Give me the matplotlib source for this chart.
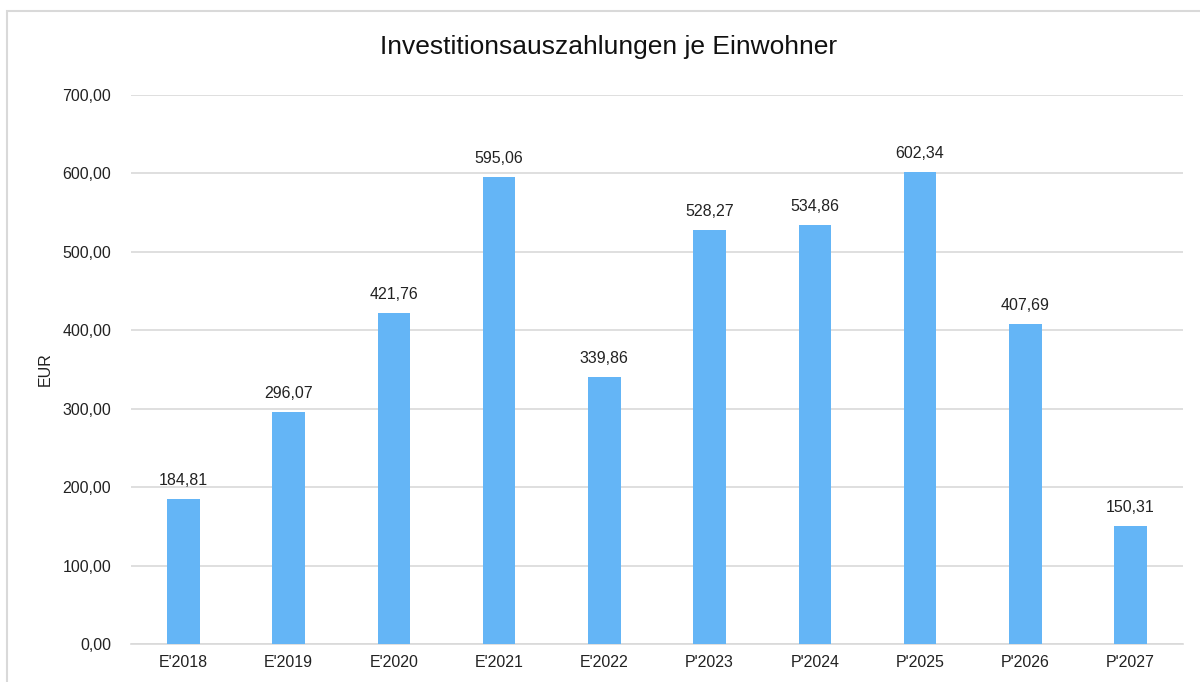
import matplotlib.pyplot as plt
from matplotlib.patches import Rectangle
from matplotlib.ticker import FuncFormatter

plt.rcParams['font.family'] = ['Liberation Sans', 'DejaVu Sans']

# data
categories = ["E'2018", "E'2019", "E'2020", "E'2021", "E'2022",
              "P'2023", "P'2024", "P'2025", "P'2026", "P'2027"]
values = [184.81, 296.07, 421.76, 595.06, 339.86,
          528.27, 534.86, 602.34, 407.69, 150.31]
y_ticks = [0, 100, 200, 300, 400, 500, 600, 700]

BAR_COLOR = '#64B5F6'
GRID_COLOR = '#d9d9d9'
TEXT_COLOR = '#222222'


def de_format(v, pos=None):
    # German decimal comma
    return "{:.2f}".format(v).replace('.', ',')


fig = plt.figure(figsize=(12, 6.82), dpi=100)
ax = fig.add_axes([0.109, 0.0557, 0.877, 0.8050])

# outer chart border (only left and top visible in the crop)
fig.patches.append(Rectangle((7 / 1200, -0.1), 1.2, 1 - 11 / 682 + 0.1,
                             transform=fig.transFigure, fill=False,
                             edgecolor=GRID_COLOR, linewidth=1.5))

x = range(len(categories))
bars = ax.bar(x, values, width=0.31, color=BAR_COLOR, zorder=3)

for rect, v in zip(bars, values):
    ax.text(rect.get_x() + rect.get_width() / 2, v + 14, de_format(v),
            ha='center', va='bottom', fontsize=11.5, color=TEXT_COLOR)

ax.set_xlim(-0.5, len(categories) - 0.5)
ax.set_ylim(0, 700)
ax.set_yticks(y_ticks)
ax.yaxis.set_major_formatter(FuncFormatter(de_format))
ax.set_xticks(list(x))
ax.set_xticklabels(categories)

ax.grid(axis='y', color=GRID_COLOR, linewidth=1.2, zorder=0)
for s in ['top', 'right', 'left']:
    ax.spines[s].set_visible(False)
ax.spines['bottom'].set_color(GRID_COLOR)
ax.spines['bottom'].set_linewidth(1.2)
ax.tick_params(axis='both', length=0, labelsize=11.5, colors=TEXT_COLOR)
ax.tick_params(axis='y', pad=14)
ax.tick_params(axis='x', pad=8)

ax.set_ylabel("EUR", fontsize=11.5, color=TEXT_COLOR, labelpad=7)
fig.text(609 / 1200, 1 - 47 / 682, "Investitionsauszahlungen je Einwohner",
         ha='center', va='center', fontsize=19, color='#111111')

fig.savefig("out.png", dpi=100)
